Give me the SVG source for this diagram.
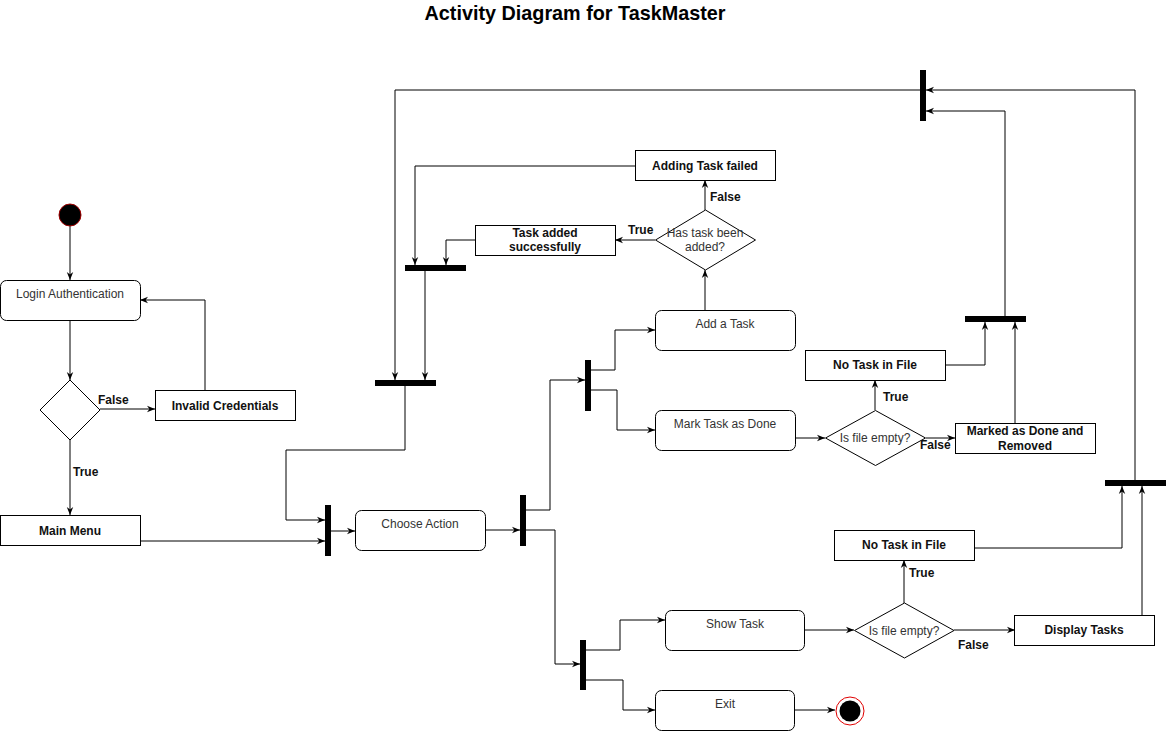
<svg xmlns="http://www.w3.org/2000/svg" width="1166" height="731" viewBox="0 0 1166 731">
<style>
.t{font-family:"Liberation Sans",Arial,sans-serif;font-size:12px;fill:#333;text-anchor:middle}
.b{font-family:"Liberation Sans",Arial,sans-serif;font-size:12px;font-weight:bold;fill:#111;text-anchor:middle}
.l{font-family:"Liberation Sans",Arial,sans-serif;font-size:12px;font-weight:bold;fill:#111}
.r{fill:#fff;stroke:#000;stroke-width:1}
.bar{fill:#000}
.c path{fill:none;stroke:#000;stroke-width:1;marker-end:url(#a)}
</style>
<defs>
<marker id="a" viewBox="0 0 10 10" refX="10" refY="5" markerWidth="8" markerHeight="8" orient="auto" markerUnits="userSpaceOnUse"><path d="M0,1 L10,5 L0,9 L3,5 z" fill="#000"/></marker>
</defs>
<rect width="1166" height="731" fill="#fff"/>
<text x="575" y="20" font-family="Liberation Sans,Arial,sans-serif" font-size="19.8" font-weight="bold" text-anchor="middle" fill="#000">Activity Diagram for TaskMaster</text>

<g class="c" id="connectors">
<path d="M70,226 V280"/>
<path d="M70,320 V380"/>
<path d="M100,409 H155"/>
<path d="M205,390 V300 H140"/>
<path d="M70,440 V515"/>
<path d="M140,541 H325"/>
<path d="M405,386 V450 H286 V520 H325"/>
<path d="M331,531 H355"/>
<path d="M486,530 H520"/>
<path d="M526,510 H550 V380 H585"/>
<path d="M526,530 H555 V664 H580"/>
<path d="M591,370 H615 V330 H655"/>
<path d="M591,390 H617 V430 H655"/>
<path d="M586,650 H620 V620 H665"/>
<path d="M586,680 H623 V710 H655"/>
<path d="M795,710 H835"/>
<path d="M705,310 V270"/>
<path d="M705,210 V180"/>
<path d="M655,240 H615"/>
<path d="M635,166 H415 V265"/>
<path d="M475,240 H446 V265"/>
<path d="M425,271 V380"/>
<path d="M920,90 H395 V380"/>
<path d="M795,438 H825"/>
<path d="M875,410 V380"/>
<path d="M926,438 H955"/>
<path d="M945,365 H985 V322"/>
<path d="M1015,423 V322"/>
<path d="M1005,316 V111 H926"/>
<path d="M805,630 H854"/>
<path d="M904,603 V560"/>
<path d="M954,630 H1015"/>
<path d="M973,548 H1122 V486"/>
<path d="M1142,615 V486"/>
<path d="M1135,480 V90 H926"/>
</g>

<g id="labels">
<text class="l" x="98" y="404">False</text>
<text class="l" x="73" y="476">True</text>
<text class="l" x="628" y="234">True</text>
<text class="l" x="710" y="201">False</text>
<text class="l" x="883" y="401">True</text>
<text class="l" x="920" y="449">False</text>
<text class="l" x="909" y="577">True</text>
<text class="l" x="958" y="649">False</text>
</g>

<g id="start"><circle cx="70" cy="215" r="11" fill="#000" stroke="#a00000" stroke-width="1"/></g>
<g id="login"><rect class="r" x="0.5" y="280.5" width="140" height="40" rx="6"/><text class="t" x="70" y="298">Login Authentication</text></g>
<g id="dec-login"><polygon class="r" points="70,380 100,410 70,440 40,410"/></g>
<g id="invalid"><rect class="r" x="155.5" y="390.5" width="140" height="30"/><text class="b" x="225" y="410">Invalid Credentials</text></g>
<g id="mainmenu"><rect class="r" x="0.5" y="515.5" width="140" height="30"/><text class="b" x="70" y="535">Main Menu</text></g>

<g id="bar1"><rect class="bar" x="325" y="505" width="6" height="51"/></g>
<g id="bar2"><rect class="bar" x="375" y="380" width="61" height="6"/></g>
<g id="bar3"><rect class="bar" x="520" y="495" width="6" height="51"/></g>
<g id="bar4"><rect class="bar" x="585" y="360" width="6" height="51"/></g>
<g id="bar5"><rect class="bar" x="580" y="640" width="6" height="50"/></g>
<g id="bar6"><rect class="bar" x="1105" y="480" width="61" height="6"/></g>
<g id="bar7"><rect class="bar" x="920" y="70" width="6" height="51"/></g>
<g id="bar8"><rect class="bar" x="965" y="316" width="61" height="6"/></g>
<g id="bar9"><rect class="bar" x="405" y="265" width="61" height="6"/></g>

<g id="choose"><rect class="r" x="355.5" y="510.5" width="130" height="40" rx="6"/><text class="t" x="420" y="528">Choose Action</text></g>
<g id="addtask"><rect class="r" x="655.5" y="310.5" width="140" height="40" rx="6"/><text class="t" x="725" y="328">Add a Task</text></g>
<g id="marktask"><rect class="r" x="655.5" y="410.5" width="140" height="40" rx="6"/><text class="t" x="725" y="428">Mark Task as Done</text></g>
<g id="showtask"><rect class="r" x="665.5" y="610.5" width="139" height="40" rx="6"/><text class="t" x="735" y="628">Show Task</text></g>
<g id="exit"><rect class="r" x="655.5" y="690.5" width="139" height="40" rx="6"/><text class="t" x="725" y="708">Exit</text></g>
<g id="end"><circle cx="850" cy="711" r="14" fill="#fff" stroke="#e00000" stroke-width="1"/><circle cx="850" cy="711" r="10.5" fill="#000"/></g>

<g id="dec-added"><polygon class="r" points="705.5,210 755.5,240 705.5,270 655.5,240"/><text class="t" x="705" y="237">Has task been</text><text class="t" x="705" y="251">added?</text></g>
<g id="failed"><rect class="r" x="635.5" y="150.5" width="140" height="30"/><text class="b" x="705" y="170">Adding Task failed</text></g>
<g id="added"><rect class="r" x="475.5" y="225.5" width="140" height="30"/><text class="b" x="545" y="237">Task added</text><text class="b" x="545" y="251">successfully</text></g>

<g id="dec-mark"><polygon class="r" points="875.5,410.5 925.5,438 875.5,465.5 825.5,438"/><text class="t" x="875" y="442">Is file empty?</text></g>
<g id="notask1"><rect class="r" x="805.5" y="350.5" width="140" height="30"/><text class="b" x="875" y="369">No Task in File</text></g>
<g id="marked"><rect class="r" x="955.5" y="423.5" width="140" height="30"/><text class="b" x="1025" y="435">Marked as Done and</text><text class="b" x="1025" y="450">Removed</text></g>

<g id="dec-show"><polygon class="r" points="904.5,603 954,630.5 904.5,658 854.5,630.5"/><text class="t" x="904" y="635">Is file empty?</text></g>
<g id="notask2"><rect class="r" x="834.5" y="530.5" width="140" height="30"/><text class="b" x="904" y="549">No Task in File</text></g>
<g id="display"><rect class="r" x="1014.5" y="615.5" width="140" height="30"/><text class="b" x="1084" y="634">Display Tasks</text></g>
</svg>
